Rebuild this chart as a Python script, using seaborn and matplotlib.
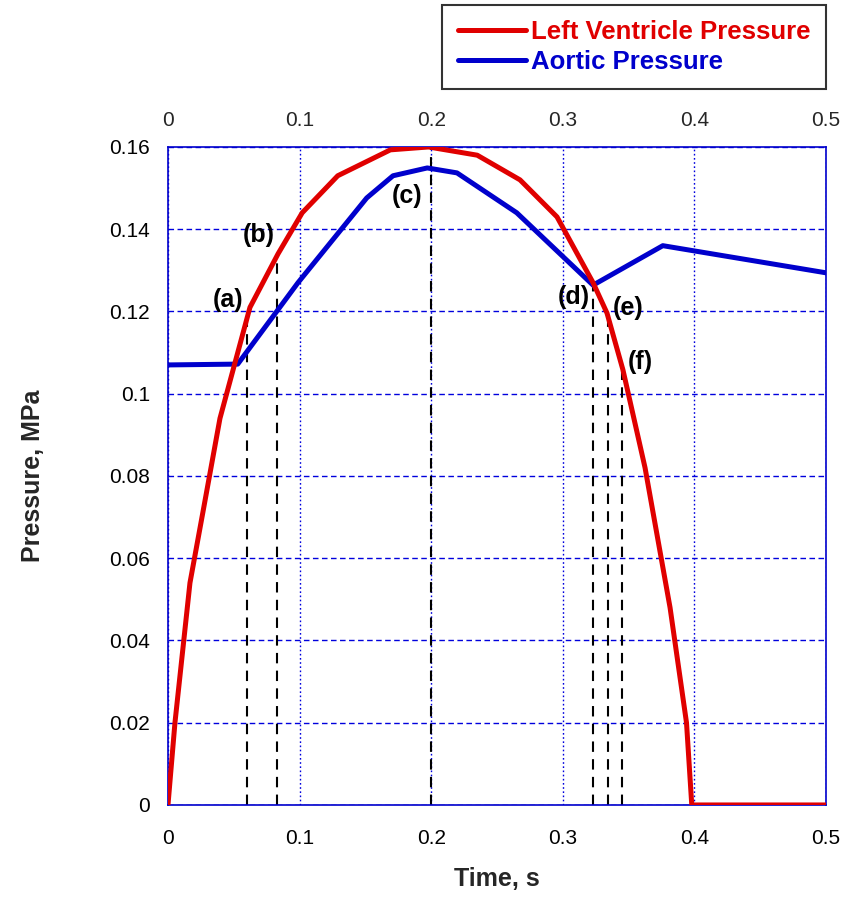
import matplotlib
matplotlib.use("Agg")
import matplotlib.pyplot as plt
import seaborn as sns
import pandas as pd
from matplotlib.lines import Line2D

sns.set_theme(style="white")
plt.rcParams['font.family'] = ['Liberation Sans', 'DejaVu Sans']

# Left ventricle pressure (time s, pressure MPa)
lv_time = [0.0, 0.0053, 0.0167, 0.027, 0.0395, 0.0623, 0.0836, 0.102, 0.129, 0.169, 0.198,
           0.235, 0.2675, 0.2956, 0.323, 0.3336, 0.3457, 0.3625, 0.3815, 0.394, 0.398, 0.5]
lv_press = [0.0, 0.020, 0.054, 0.072, 0.094, 0.121, 0.134, 0.144, 0.153, 0.1593, 0.160,
            0.158, 0.152, 0.143, 0.127, 0.1196, 0.1058, 0.082, 0.048, 0.020, 0.0, 0.0]

# Aortic pressure
ao_time = [0.0, 0.053, 0.0988, 0.151, 0.171, 0.197, 0.2196, 0.265, 0.323, 0.376, 0.5]
ao_press = [0.107, 0.1072, 0.127, 0.1476, 0.153, 0.1549, 0.1537, 0.144, 0.1264, 0.136, 0.1294]

# Marker lines (a)-(f)
mark_labels = ["(a)", "(b)", "(c)", "(d)", "(e)", "(f)"]
mark_time = [0.0603, 0.083, 0.2, 0.3227, 0.334, 0.3452]
mark_top = [0.12, 0.134, 0.16, 0.127, 0.1196, 0.1058]
label_x = [0.0456, 0.069, 0.1816, 0.3085, 0.3495, 0.359]
label_y = [0.1227, 0.1386, 0.148, 0.1235, 0.1208, 0.1077]

x_ticks = [0, 0.1, 0.2, 0.3, 0.4, 0.5]
x_ticklabels = ["0", "0.1", "0.2", "0.3", "0.4", "0.5"]
y_ticks = [0, 0.02, 0.04, 0.06, 0.08, 0.1, 0.12, 0.14, 0.16]
y_ticklabels = ["0", "0.02", "0.04", "0.06", "0.08", "0.1", "0.12", "0.14", "0.16"]

RED = "#e00000"
BLUE = "#0000cc"
GRID = "#0000dd"

fig = plt.figure(figsize=(8.42, 9.14), dpi=100)
ax = fig.add_axes([0.1995, 0.1193, 0.7815, 0.7199])

# grid
for xv in x_ticks:
    ax.axvline(xv, color=GRID, lw=1.0, ls=(0, (1.2, 1.8)), zorder=1)
for yv in y_ticks:
    ax.axhline(yv, color=GRID, lw=1.0, ls=(0, (4, 2.5)), zorder=1)

# marker dashed lines
for t, top in zip(mark_time, mark_top):
    ax.plot([t, t], [0, top], color="black", lw=1.5, ls=(0, (5, 3.5)), zorder=2)

lv_df = pd.DataFrame({"t": lv_time, "p": lv_press})
ao_df = pd.DataFrame({"t": ao_time, "p": ao_press})
sns.lineplot(data=ao_df, x="t", y="p", ax=ax, color=BLUE, lw=3.6, sort=False,
             estimator=None, zorder=3)
sns.lineplot(data=lv_df, x="t", y="p", ax=ax, color=RED, lw=3.6, sort=False,
             estimator=None, zorder=4)

for lab, lx, ly in zip(mark_labels, label_x, label_y):
    ax.text(lx, ly, lab, fontsize=18, fontweight="bold", ha="center", va="center",
            color="black", zorder=5)

ax.set_xlim(0, 0.5)
ax.set_ylim(0, 0.16)
ax.set_xticks(x_ticks)
ax.set_xticklabels(x_ticklabels)
ax.set_yticks(y_ticks)
ax.set_yticklabels(y_ticklabels)
ax.tick_params(axis="both", length=0, labelsize=15, pad=17, colors="black")
ax.tick_params(axis="y", pad=13)

sec = ax.secondary_xaxis("top")
sec.set_xticks(x_ticks)
sec.set_xticklabels(x_ticklabels)
sec.tick_params(length=0, labelsize=15, pad=12)
sec.spines["top"].set_visible(False)

for sp in ax.spines.values():
    sp.set_color(BLUE)
    sp.set_linewidth(1.2)
    sp.set_visible(True)

ax.set_xlabel("Time, s", fontsize=18, fontweight="bold", labelpad=14)
ax.set_ylabel("Pressure, MPa", fontsize=18, fontweight="bold", labelpad=46)

handles = [Line2D([0], [0], color=RED, lw=3.6), Line2D([0], [0], color=BLUE, lw=3.6)]
leg = fig.legend(handles, ["Left Ventricle Pressure", "Aortic Pressure"],
                 loc="upper right", bbox_to_anchor=(0.981, 0.9945), frameon=True,
                 fancybox=False, edgecolor="black", fontsize=18.5, handlelength=2.65,
                 handletextpad=0.2, borderpad=0.6, labelspacing=0.2, borderaxespad=0)
leg.get_frame().set_linewidth(1.5)
for txt, c in zip(leg.get_texts(), [RED, BLUE]):
    txt.set_color(c)
    txt.set_fontweight("bold")

fig.savefig("out.png", dpi=100)
